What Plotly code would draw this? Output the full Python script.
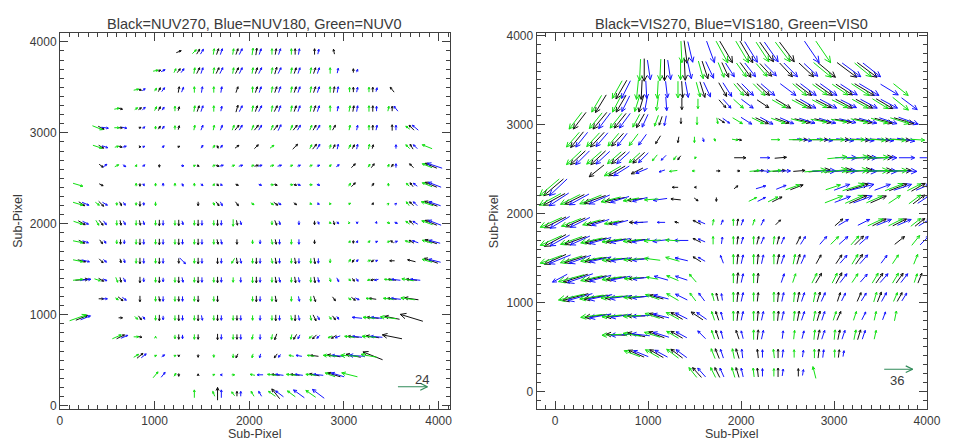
import math
import plotly.graph_objects as go

# ---------------- data: NUV panel (vectors as measured on the plot) ----------------
NUV_ROW_Y = [130, 339, 548, 757, 966, 1175, 1384, 1593, 1802, 2011,
             2220, 2429, 2638, 2847, 3056, 3265, 3474, 3683, 3892]
NUV_COL_X = [230, 435, 640, 845, 1050, 1255, 1460, 1665, 1870, 2075,
             2280, 2485, 2690, 2895, 3100, 3305, 3510, 3715, 3920]

# tokens "column:dx,dy" per row (bottom row first)
NUV0 = [  # green
    "6:0,8 7:-2,5 8:-3,4 9:-3,5 10:-7,5 11:-8,6 12:-10,7",
    "4:5,6 5:2,3 7:2,1 8:3,0 9:-5,1 10:-9,1 11:-10,1 12:-10,1 13:-10,4 14:-16,4",
    "3:5,3 4:2,1 5:2,1 7:0,-3 8:0,-4 9:-1,-4 11:-5,1 12:-7,1 13:-14,1 14:-18,1 15:-16,3",
    "2:9,4 3:5,0 4:0,1 5:0,-4 6:0,-5 8:0,-5 9:-1,-5 10:-1,-5 11:-1,-5 12:-3,-3 13:-4,-2 14:-10,1 15:-14,1",
    "0:17,6 3:3,-3 4:0,-5 5:0,-5 6:0,-5 7:0,-5 8:0,-5 9:0,-5 10:0,-5 11:1,-5 12:1,-5 13:2,-3 15:-12,1 16:-16,2",
    "2:3,-2 4:0,-5 5:0,-5 6:0,-5 7:0,-5 9:0,-5 10:0,-5 11:0,-5 12:0,-5 14:3,-2 15:-6,1 16:-10,1 17:-14,2",
    "0:10,1 1:6,-2 2:2,-5 4:0,-5 5:0,-5 6:0,-5 7:0,-5 8:0,-5 9:0,-6 10:0,-5 11:0,-5 12:0,-5 13:1,-4 14:2,-2 15:-3,-1 16:-8,1 17:-12,2",
    "0:10,-2 3:0,-5 4:0,-5 6:0,-5 8:-3,-5 9:0,-5 10:1,-5 11:0,-5 12:0,-5 13:0,-4 14:2,3 15:3,1 18:-10,3",
    "0:10,-2 2:0,-4 3:0,-5 4:0,-5 5:0,-5 6:0,-5 7:0,-5 9:0,-4 10:1,-5 11:0,-5 14:1,2 15:2,2 16:3,1 17:-5,2 18:-10,3",
    "0:9,-3 1:3,-5 2:0,-5 3:0,-5 4:0,-5 5:0,-5 6:0,-5 7:0,-5 8:0,-7 10:0,-4 13:2,-1 14:1,0 16:3,-1 17:-4,3 18:-11,4",
    "0:10,-3 1:4,-3 2:0,-3 3:0,-3 4:0,-4 7:1,-3 9:3,-2 10:3,-2 12:2,-1 13:2,0 14:2,1 16:1,1 17:-3,4 18:-12,4",
    "0:10,-3 3:0,3 4:0,3 5:0,3 6:0,3 7:1,2 10:3,0 11:3,0 12:3,0 14:2,3 16:0,3 17:-3,3 18:-10,4",
    "2:4,2 3:1,2 6:2,1 7:3,1 8:3,1 9:3,1 10:4,1 11:3,1 12:3,1 13:2,2 15:2,3 16:1,3 18:-10,4",
    "1:9,-3 2:4,1 7:2,3 10:4,3 12:2,4 13:1,4 14:2,4 15:1,5 17:-4,4 18:-10,4",
    "1:10,-4 2:5,0 4:0,3 5:0,4 6:1,5 7:1,5 8:2,5 9:2,5 10:2,5 11:2,5 12:2,5 13:0,5 14:1,5 15:0,5 17:-4,3",
    "2:5,1 3:3,2 4:2,4 5:0,5 6:1,6 7:0,6 9:1,6 10:1,6 11:1,6 12:1,6 13:0,6 14:1,6 15:0,6 16:1,5",
    "3:5,1 4:2,3 6:0,6 7:0,6 9:0,6 10:1,6 11:1,6 12:1,6 13:0,6 14:0,5 15:0,5",
    "4:5,1 5:2,4 6:1,6 7:1,6 8:1,6 9:1,6 10:1,6 11:1,6 12:1,6 13:0,6",
    "6:4,4 7:1,6 8:1,6 9:1,7 10:0,6 11:0,6",
]
NUV180 = [  # blue
    "7:0,8 8:0,5 9:-3,5 10:-8,6 11:-11,8 12:-12,9",
    "4:4,5 7:-2,0 9:-6,0 10:-8,1 11:-8,1 12:-10,1 13:-13,4",
    "3:5,4 4:3,2 9:-1,-4 10:-2,-3 11:-6,1 13:-12,1 14:-16,1",
    "2:7,3 5:0,-4 7:0,-5 8:0,-5 9:0,-5 11:-2,-4 12:-3,-3 13:-5,-2 14:-10,1 15:-12,1",
    "0:10,4 3:2,-3 4:0,-4 5:0,-5 6:1,-5 7:0,-5 8:0,-5 9:0,-5 10:0,-5 11:1,-5 12:2,-4 13:2,-3 14:-10,1 15:-11,1",
    "1:5,0 2:4,-3 4:0,-5 5:0,-5 9:0,-5 11:1,-5 14:4,-2 16:-10,1",
    "0:11,1 1:4,-2 2:2,-4 3:0,-4 4:0,-4 5:1,-5 6:0,-5 7:0,-5 8:0,-5 9:0,-5 10:1,-5 11:1,-5 12:1,-5 13:2,-4 14:2,-3 15:-4,-1 16:-9,1 17:-10,1",
    "0:8,-2 1:3,-3 2:1,-4 3:0,-5 4:0,-5 5:6,-6 6:0,-5 7:0,-5 8:1,-5 9:0,-5 10:0,-5 11:0,-5 12:0,-5 14:2,2 15:2,1 18:-12,3",
    "0:6,-2 1:2,-3 2:0,-4 3:0,-5 4:0,-5 5:0,-5 6:0,-5 7:1,-5 9:0,-4 10:0,-5 11:0,-5 14:1,2 15:2,1 16:3,1 17:-6,2 18:-11,3",
    "0:6,-3 1:3,-4 2:2,-4 3:1,-4 4:0,-5 5:1,-4 6:0,-5 7:0,-5 8:1,-4 10:1,-4 11:0,-4 12:1,-3 13:2,-2 14:0,-2 15:1,-1 16:3,-1 17:-5,3 18:-13,5",
    "0:7,-3 1:5,-3 2:2,-3 3:0,-3 7:2,-4 10:3,-2 12:2,-1 16:1,1 17:-4,4 18:-12,4",
    "3:1,-2 4:0,3 5:1,-3 6:2,-2 7:2,-1 9:3,-1 11:3,-1 12:3,-1 17:-4,3 18:-13,5",
    "1:4,3 2:3,-2 3:2,2 5:3,0 7:4,1 8:4,1 9:4,1 10:4,1 11:3,1 12:3,1 13:3,2 16:0,4 18:-15,5",
    "1:6,-2 2:4,1 3:2,1 4:2,2 6:2,3 7:2,3 12:3,5 13:1,5 14:1,5 16:0,4 17:-4,4",
    "1:7,-1 2:5,-1 3:2,2 4:2,3 6:2,5 7:2,5 8:3,5 9:3,5 10:3,6 11:3,5 12:3,5 14:1,5 15:1,5 16:0,5 17:-6,5",
    "3:3,3 4:2,3 6:2,6 7:1,5 8:3,6 9:3,6 10:2,6 11:2,6 12:2,6 13:1,5 14:1,6 15:0,5 16:-4,5",
    "3:3,2 4:3,4 5:2,5 6:1,6 7:1,6 9:2,6 10:2,6 11:2,6 12:2,6 13:1,6 14:1,5 15:1,4",
    "4:4,2 5:3,4 6:2,6 7:3,6 8:3,6 9:3,6 10:3,6 11:2,6 12:2,6 13:1,5 14:1,3",
    "6:3,5 7:2,6 8:3,6 9:2,6 10:2,6 11:1,6 12:1,5",
]
NUV270 = [  # black
    "7:0,13 8:0,5 10:-8,10",
    "5:0,-3 6:0,2 10:-8,1 11:-9,1 12:-10,2 13:-13,4",
    "3:6,5 5:0,-2 6:0,-3 8:-2,-4 10:-3,-4 12:-8,1 13:-13,2 14:-15,3 15:-20,8",
    "2:8,4 3:4,-1 5:0,-5 6:0,-5 7:0,-6 8:0,-5 10:-2,-6 11:-3,-5 12:-4,-4 13:-5,-3 14:-11,1 15:-13,2 16:-20,4",
    "0:12,5 2:4,0 3:3,-4 4:0,-6 5:0,-6 6:0,-6 7:0,-6 8:0,-5 10:0,-6 11:0,-6 12:3,-6 13:3,-4 15:-12,1 16:-15,3 17:-23,7",
    "1:5,0 2:5,-4 3:0,-6 4:1,-5 5:0,-5 6:0,-6 7:0,-6 9:0,-6 10:1,-6 12:2,-6 13:3,-4 14:4,-3 15:-7,1 16:-9,1 17:-14,2",
    "0:13,1 1:5,-3 2:1,-5 3:0,-6 4:0,-6 5:0,-6 6:0,-6 7:0,-6 9:0,-6 10:1,-6 11:1,-6 12:1,-6 14:2,-3 15:-4,-1 16:-8,1 17:-11,1",
    "0:8,-2 1:4,-4 2:1,-4 3:0,-6 4:0,-6 5:0,-5 6:0,-6 7:0,-6 8:1,-6 9:0,-6 10:1,-6 11:1,-6 12:1,-6 14:-2,-3 15:-3,-2 16:-5,0 17:-8,2 18:-14,5",
    "0:6,-3 1:3,-4 2:0,-5 3:0,-6 4:0,-6 5:0,-6 6:0,-6 7:1,-5 8:0,-5 10:1,-5 12:0,-4 14:0,-3 16:-3,2 17:-5,3 18:-12,4",
    "0:7,-4 1:4,-5 2:1,-5 3:1,-5 4:0,-6 5:0,-6 6:0,-6 7:0,-6 8:1,-5 10:2,-5 12:0,-4 13:1,-4 17:-4,4 18:-12,5",
    "0:6,-4 1:5,-5 2:2,-4 3:0,-5 6:0,-4 7:3,-4 8:3,-4 10:4,-3 11:3,-2 15:1,2 17:-4,4 18:-13,5",
    "1:4,-2 3:0,-3 7:2,-2 8:3,-1 10:3,-1 11:3,-1 14:4,4 15:2,3 17:-3,4 18:-12,5",
    "1:4,-3 4:0,-3 6:2,-1 7:3,-1 9:4,1 14:4,4 15:3,4 16:2,3 17:-4,4 18:-12,5",
    "1:5,-3 2:3,-1 3:2,0 5:2,1 7:1,-3 8:4,3 9:4,4 11:5,5 12:4,5 13:2,4 14:2,4 15:1,4 17:-3,5",
    "1:6,-3 2:4,0 3:2,1 4:2,3 5:1,4 8:4,5 9:4,5 10:4,5 11:4,5 12:3,5 13:3,5 15:0,5 16:0,6 17:-5,5",
    "2:4,-1 3:3,2 4:2,4 5:1,4 6:2,6 8:2,7 9:2,6 10:3,6 11:2,6 12:2,6 14:1,6 15:0,6 16:0,5",
    "3:3,-1 4:2,4 5:1,6 8:2,6 9:2,6 10:2,6 11:2,6 12:2,6 13:1,6 14:0,5 15:0,5 16:-4,5",
    "4:3,1 5:3,4 6:3,6 7:3,6 8:3,6 9:2,6 10:2,7 11:2,6 12:2,6 14:0,4",
    "5:5,2 6:3,5 7:2,6 8:2,6 9:1,7 10:1,6 11:0,6 12:0,6 13:-1,5",
]

# ---------------- data: VIS panel ----------------
VIS_ROW_Y = [213, 425, 637, 849, 1061, 1273, 1485, 1697, 1900, 2158,
             2294, 2478, 2626, 2829, 3042, 3233, 3392, 3613, 3815]
VIS_ROW_X0 = [0, 0, 0, 0, 0, 0, 0, 0, 0, -10,
              -17, 445, 245, 235, 263, 491, 712, 958, 1403]
VIS_COL_STEP = 218

VIS0 = [  # green
    "7:-8,10 8:-5,10 9:-3,10 10:-1,9 11:0,8 13:-3,12",
    "4:-16,6 5:-14,8 6:-12,9 8:-4,10 9:-2,10 11:-1,9 12:0,8 13:0,9 14:0,8",
    "3:-20,-1 4:-18,3 5:-16,5 6:-12,7 8:-3,9 10:0,10 12:1,9 13:1,10 14:1,10 15:2,10 16:2,9",
    "2:-22,-3 3:-20,-2 4:-18,-1 5:-15,5 6:-13,7 8:-3,9 9:0,10 10:0,10 11:0,10 12:1,10 13:2,10 14:3,9 15:3,9 16:2,9 17:2,10",
    "1:-26,-6 2:-24,-4 3:-22,-2 4:-17,-1 5:-14,5 6:-12,7 7:-6,8 8:-2,8 9:0,10 10:0,9 11:0,10 12:1,10 13:2,10 16:3,10 17:4,9",
    "1:-26,-7 2:-22,-5 3:-20,-3 4:-16,-1 5:-12,2 6:-12,5 7:-7,8 9:0,10 10:0,10 12:3,9 13:5,10 14:5,10 15:6,9 16:6,10 17:6,10 18:3,9",
    "0:-22,-8 1:-22,-7 2:-22,-4 3:-20,-2 4:-17,-1 5:-16,2 6:-14,4 9:0,10 10:0,10 11:0,10 12:2,10 15:6,10 17:6,9 18:4,10",
    "0:-22,-10 1:-22,-8 2:-22,-5 3:-20,-3 4:-18,-2 5:-17,-1 6:-14,1 8:0,8 9:0,8 10:0,8 11:1,8 14:8,8 15:8,9 18:8,10",
    "0:-22,-10 1:-20,-8 2:-18,-5 3:-15,-3 8:1,6 9:0,7 10:2,6 16:15,7 17:14,7 18:10,8",
    "0:-22,-12 1:-20,-10 2:-22,-9 3:-20,-5 4:-16,-3 5:-14,-1 10:8,4 11:10,5 14:18,7 15:18,8 16:16,7 17:12,8 18:12,9",
    "0:-20,-17 12:14,5 14:15,5 15:22,7 17:18,7 18:14,7",
    "1:-17,-10 4:-8,-1 5:-3,0 8:10,1 9:13,1 11:22,2 12:24,3 13:25,2 14:25,1 15:22,1",
    "0:-15,-14 1:-15,-13 2:-14,-12 3:-11,-10 4:-5,-6 5:-3,-4 6:-1,-2 13:20,2 14:22,2 15:22,1",
    "0:-13,-15 1:-13,-14 2:-11,-13 3:-9,-12 6:0,-6 7:1,-3 8:6,-1 10:9,0 11:14,0 12:15,0 13:17,0 14:17,0 15:18,-1 16:18,-1 17:15,-1",
    "0:-13,-17 1:-13,-16 2:-12,-15 3:-7,-13 4:-4,-11 6:0,-8 7:1,-6 8:10,-6 9:12,-6 10:14,-5 11:15,-4 12:16,-3 13:16,-3 14:17,-4 15:17,-5 16:19,-6",
    "0:-10,-17 1:-9,-17 2:-5,-16 3:-2,-14 5:0,-10 7:10,-9 9:14,-8 10:15,-8 11:15,-8 12:16,-8 13:16,-9 14:16,-10 15:16,-13",
    "0:-10,-18 1:-2,-20 2:-1,-18 3:0,-17 4:4,-15 6:10,-12 7:12,-12 9:14,-12 10:15,-11 11:16,-11 12:18,-12 14:15,-12",
    "0:-1,-22 1:-1,-22 2:0,-20 3:5,-18 4:6,-15 5:10,-14 6:11,-13 9:18,-15 11:17,-14",
    "0:1,-22 2:12,-22 3:13,-22 4:13,-20 5:15,-20 7:15,-22",
]
VIS180 = [  # blue
    "7:-8,9 8:-4,9 9:-2,9 10:0,8 11:1,7 12:1,6",
    "4:-15,6 5:-13,7 6:-11,8 8:-3,9 9:-1,9 10:0,8 11:1,8 12:1,7 13:1,8 14:1,6",
    "3:-20,-1 4:-18,2 5:-16,5 6:-11,6 7:-8,8 8:-2,8 9:-2,8 10:2,9 11:1,8 12:2,8 13:3,9 14:3,9 15:3,9",
    "2:-22,-4 3:-20,-3 4:-18,-1 5:-16,4 6:-12,6 7:-10,7 8:-2,8 9:2,9 10:2,9 11:2,9 12:3,9 13:3,9 15:4,8 16:3,8",
    "1:-25,-7 2:-24,-5 3:-22,-3 4:-17,-2 5:-15,4 6:-12,6 7:-6,8 8:-1,7 9:2,9 11:2,9 12:3,9 13:4,9 14:4,8 15:5,8 16:5,9 17:5,8",
    "0:-15,-8 1:-26,-9 2:-22,-6 3:-20,-4 4:-16,-2 5:-14,4 6:-12,4 9:2,9 11:3,9 14:7,9 15:7,8 16:8,9 17:7,9",
    "0:-22,-9 1:-22,-8 2:-22,-5 3:-20,-3 4:-17,-2 6:-13,3 7:-7,4 8:-3,8 9:2,9 10:2,9 11:3,9 12:4,9 14:7,8 15:8,9 16:6,8",
    "0:-20,-11 1:-20,-9 2:-22,-6 3:-20,-4 4:-18,-3 5:-17,-2 6:-14,0 7:-7,3 8:1,7 9:2,7 10:3,7 11:3,7 12:5,8 13:7,8 14:9,8 15:9,8 18:9,9",
    "0:-20,-12 1:-20,-10 2:-18,-6 3:-15,-4 4:-14,-1 5:-8,0 7:-7,3 8:2,5 9:2,6 10:3,6 14:10,6 15:12,6 16:15,6 17:14,6 18:12,7",
    "0:-20,-13 1:-20,-11 2:-21,-9 3:-19,-6 4:-15,-4 5:-14,-2 10:8,4 14:16,6 15:19,7 18:12,8",
    "0:-18,-17 10:10,3 11:10,4 14:16,6 15:24,6 16:16,6 17:18,6 18:14,6",
    "1:-16,-10 2:-12,-5 3:-6,-2 8:14,-1 9:14,0 11:24,0 12:25,0 13:25,-1 14:25,-1 15:24,-1",
    "0:-14,-14 1:-14,-13 2:-13,-12 3:-10,-10 4:-5,-5 9:10,0 13:22,0 14:22,0 15:21,0 16:16,0 17:15,0",
    "0:-12,-15 1:-12,-14 2:-10,-13 3:-8,-11 6:1,-4 11:15,-2 12:16,-2 13:18,-2 14:18,-2 15:17,-2 16:18,-3",
    "1:-12,-16 2:-11,-15 3:-6,-13 4:-2,-10 7:7,-5 8:11,-7 9:13,-7 10:14,-6 11:16,-5 12:17,-5 13:17,-4 14:18,-5 15:18,-6 16:20,-7",
    "1:-8,-16 2:-3,-16 3:1,-14 6:8,-9 7:12,-9 10:16,-9 11:17,-9 12:16,-8 13:17,-9 14:17,-9 15:16,-12",
    "0:-9,-18 1:1,-18 2:2,-17 3:3,-16 4:7,-15 5:9,-14 6:12,-12 7:14,-12 8:16,-12 9:16,-12 10:17,-12 11:17,-11 12:20,-12 13:18,-11",
    "0:3,-20 1:3,-20 2:4,-18 3:8,-17 4:9,-14 5:11,-14 6:12,-12 7:14,-14 8:14,-13 10:19,-14 11:18,-14",
    "0:5,-21 1:8,-22 3:13,-21 4:14,-20 6:15,-22",
]
VIS270 = [  # black
    "7:-9,10 8:-5,10 9:-3,10 10:-1,9 11:0,9 12:0,8",
    "4:-16,7 5:-14,8 6:-12,9 8:-4,10 9:-3,10 10:-1,9 11:0,9 13:1,9 14:1,8",
    "3:-20,1 4:-18,4 5:-16,6 6:-12,7 8:-3,9 9:-3,9 10:1,10 13:2,10 14:2,10 15:3,10",
    "2:-22,-3 3:-20,-2 4:-18,0 5:-15,5 6:-12,7 7:-12,8 8:-3,9 9:1,10 10:1,10 11:1,10 12:2,10 13:3,10 14:4,9",
    "1:-26,-7 2:-24,-4 3:-22,-2 4:-17,-1 5:-14,4 8:-2,8 9:1,10 10:1,9 11:1,10 12:2,10 13:3,10 14:3,9 15:4,9 16:4,10 17:5,9",
    "1:-25,-8 2:-22,-5 3:-20,-3 4:-16,-1 9:1,11 10:1,10 13:6,10 14:6,11 16:7,10 17:7,10 18:4,10",
    "0:-22,-10 1:-22,-7 2:-22,-4 3:-20,-2 4:-17,-1 7:-8,5 9:1,10 10:1,10 11:2,10 12:3,10 13:5,9 14:6,9 15:7,10",
    "0:-22,-12 1:-22,-8 2:-22,-5 3:-20,-3 4:-18,-2 7:-8,4 9:1,8 10:2,8 11:2,8 12:4,8 15:9,9 17:10,8",
    "0:-22,-11 1:-20,-9 2:-18,-5 3:-15,-3 4:-14,0 6:-4,1 7:-8,4 9:1,7 11:5,5 14:8,7 16:14,7 17:14,7 18:10,8",
    "0:-22,-12 1:-20,-10 2:-22,-8 3:-20,-4 4:-16,-2 6:-10,1 7:4,-3 8:0,-4 11:10,5 15:18,8 16:16,7 18:12,9",
    "0:-20,-17 6:-6,0 7:-2,0 9:4,3 12:13,5 15:22,7 17:18,7 18:14,8",
    "0:-15,-12 1:-17,-10 2:-12,-6 6:4,0 7:3,0 8:10,1 9:13,1 10:12,1 11:22,2 12:24,2 13:25,2 14:25,1 15:22,1",
    "0:-15,-14 1:-15,-14 2:-14,-12 3:-12,-11 5:-3,-4 8:12,0 10:12,1 14:22,1 15:22,1",
    "0:-13,-16 1:-14,-15 2:-12,-13 4:-5,-8 5:-1,-6 8:5,-1 11:15,0 12:16,0 13:18,0 14:18,-1 15:18,-1 16:18,-1",
    "0:-13,-17 1:-14,-17 2:-12,-15 3:-8,-14 4:-3,-9 5:0,-6 7:6,-4 9:13,-6 10:14,-5 11:16,-4 12:17,-4 13:17,-3 14:18,-4 15:18,-5 16:20,-6",
    "0:-11,-18 1:-10,-17 2:-5,-17 4:0,-12 6:7,-8 8:12,-8 9:15,-9 10:16,-9 11:16,-8 12:17,-9 13:17,-9 14:17,-10",
    "0:-11,-19 1:-1,-20 3:1,-17 4:5,-16 5:8,-14 6:12,-13 7:13,-12 9:16,-12 10:17,-12 11:17,-11 12:20,-12",
    "0:0,-23 1:0,-22 2:1,-21 3:6,-18 4:7,-15 5:11,-15 6:12,-13 7:13,-14 8:15,-14 9:18,-15 10:20,-15 11:20,-15",
    "0:3,-23 2:13,-22 3:13,-22 4:14,-20 5:15,-20",
]

# reference arrows: (label, x tail, y tail, measured length)
NUV_KEY = ("24", 3571, 208, 30)
VIS_KEY = ("36", 3540, 250, 29)

# ---------------- layout geometry ----------------
W, H = 955, 446
L_DOM_X = [58 / W, 455 / W]
R_DOM_X = [543.3 / W, 940.7 / W]
DOM_Y = [1 - 412.7 / H, 1 - 29.3 / H]
L_XR, L_YR = [0, 4120], [-40, 4100]
R_XR, R_YR = [-200, 4000], [-200, 4030]

COLORS = {"black": "#111111", "blue": "#1414ff", "green": "#12e012"}
KEY_COLOR = "#2f8a58"
TXT = "#3a3a3a"
FONT = "Liberation Sans"


def scales(dom_x, xr, yr):
    sx = (dom_x[1] - dom_x[0]) * W / (xr[1] - xr[0])
    sy = (DOM_Y[1] - DOM_Y[0]) * H / (yr[1] - yr[0])
    return sx, sy


def add_arrow(xs, ys, cx, cy, dx, dy, sx, sy, centered=True):
    ux, uy = dx / sx, dy / sy
    if centered:
        tx, ty = cx - ux / 2, cy - uy / 2
    else:
        tx, ty = cx, cy
    hx, hy = tx + ux, ty + uy
    xs += [tx, hx, None]
    ys += [ty, hy, None]
    L = math.hypot(dx, dy)
    if L == 0:
        return
    hl = max(2.3, 0.27 * L)
    ang = math.atan2(dy, dx)
    for a in (ang + math.pi - 0.45, ang + math.pi + 0.45):
        xs += [hx, hx + hl * math.cos(a) / sx, None]
        ys += [hy, hy + hl * math.sin(a) / sy, None]


def field_xy(rows, row_y, col_x_fn, offset, sx, sy):
    xs, ys = [], []
    for k, s in enumerate(rows):
        for tok in s.split():
            j, v = tok.split(":")
            dx, dy = (float(t) for t in v.split(","))
            add_arrow(xs, ys, col_x_fn(k, int(j)) + offset, row_y[k], dx, dy, sx, sy)
    return xs, ys


fig = go.Figure()

# NUV panel
sxL, syL = scales(L_DOM_X, L_XR, L_YR)
nuv_col = lambda k, j: NUV_COL_X[j]
for rows, color, off in ((NUV270, "black", 0), (NUV180, "blue", 40), (NUV0, "green", -40)):
    xs, ys = field_xy(rows, NUV_ROW_Y, nuv_col, off, sxL, syL)
    fig.add_trace(go.Scatter(x=xs, y=ys, mode="lines", line=dict(color=COLORS[color], width=1),
                             xaxis="x", yaxis="y", hoverinfo="skip", showlegend=False))

# VIS panel
sxR, syR = scales(R_DOM_X, R_XR, R_YR)
vis_col = lambda k, j: VIS_ROW_X0[k] + VIS_COL_STEP * j
for rows, color, off in ((VIS270, "black", 0), (VIS180, "blue", 50), (VIS0, "green", -45)):
    xs, ys = field_xy(rows, VIS_ROW_Y, vis_col, off, sxR, syR)
    fig.add_trace(go.Scatter(x=xs, y=ys, mode="lines", line=dict(color=COLORS[color], width=1),
                             xaxis="x2", yaxis="y2", hoverinfo="skip", showlegend=False))

# key arrows
for key, xa, ya, sx, sy in ((NUV_KEY, "x", "y", sxL, syL), (VIS_KEY, "x2", "y2", sxR, syR)):
    label, kx, ky, klen = key
    xs, ys = [], []
    add_arrow(xs, ys, kx, ky, klen, 0, sx, sy, centered=False)
    fig.add_trace(go.Scatter(x=xs, y=ys, mode="lines", line=dict(color=KEY_COLOR, width=1.2),
                             xaxis=xa, yaxis=ya, hoverinfo="skip", showlegend=False))

annotations = [
    dict(text="24", x=3828, y=287, xref="x", yref="y", showarrow=False,
         font=dict(family=FONT, size=13, color=TXT)),
    dict(text="36", x=3677, y=125, xref="x2", yref="y2", showarrow=False,
         font=dict(family=FONT, size=13, color=TXT)),
    dict(text="Black=NUV270, Blue=NUV180, Green=NUV0", x=sum(L_DOM_X) / 2, y=1 - 20 / H,
         xref="paper", yref="paper", showarrow=False, xanchor="center", yanchor="middle",
         font=dict(family=FONT, size=14.5, color=TXT)),
    dict(text="Black=VIS270, Blue=VIS180, Green=VIS0", x=sum(R_DOM_X) / 2, y=1 - 20 / H,
         xref="paper", yref="paper", showarrow=False, xanchor="center", yanchor="middle",
         font=dict(family=FONT, size=14.5, color=TXT)),
    dict(text="Sub-Pixel", x=sum(L_DOM_X) / 2, y=1 - 438 / H, xref="paper", yref="paper",
         showarrow=False, xanchor="center", yanchor="middle", font=dict(family=FONT, size=12.5, color=TXT)),
    dict(text="Sub-Pixel", x=sum(R_DOM_X) / 2, y=1 - 438 / H, xref="paper", yref="paper",
         showarrow=False, xanchor="center", yanchor="middle", font=dict(family=FONT, size=12.5, color=TXT)),
    dict(text="Sub-Pixel", x=15 / W, y=sum(DOM_Y) / 2, xref="paper", yref="paper", textangle=-90,
         showarrow=False, xanchor="center", yanchor="middle", font=dict(family=FONT, size=12.5, color=TXT)),
    dict(text="Sub-Pixel", x=500 / W, y=sum(DOM_Y) / 2, xref="paper", yref="paper", textangle=-90,
         showarrow=False, xanchor="center", yanchor="middle", font=dict(family=FONT, size=12.5, color=TXT)),
]


def axis(dom, rng, anchor):
    return dict(domain=dom, range=rng, anchor=anchor, showgrid=False, zeroline=False,
                showline=True, linecolor="#404040", linewidth=1, mirror="allticks",
                ticks="inside", ticklen=8, tickcolor="#404040", tickwidth=1,
                tick0=0, dtick=1000, tickfont=dict(family=FONT, size=12, color=TXT),
                minor=dict(ticks="inside", ticklen=4, tickcolor="#404040", dtick=100, tick0=0),
                fixedrange=True)


fig.update_layout(
    width=W, height=H, margin=dict(l=0, r=0, t=0, b=0),
    paper_bgcolor="white", plot_bgcolor="white",
    xaxis=axis(L_DOM_X, L_XR, "y"), yaxis=axis(DOM_Y, L_YR, "x"),
    xaxis2=axis(R_DOM_X, R_XR, "y2"), yaxis2=axis(DOM_Y, R_YR, "x2"),
    annotations=annotations,
)

fig.write_html("out.html")
